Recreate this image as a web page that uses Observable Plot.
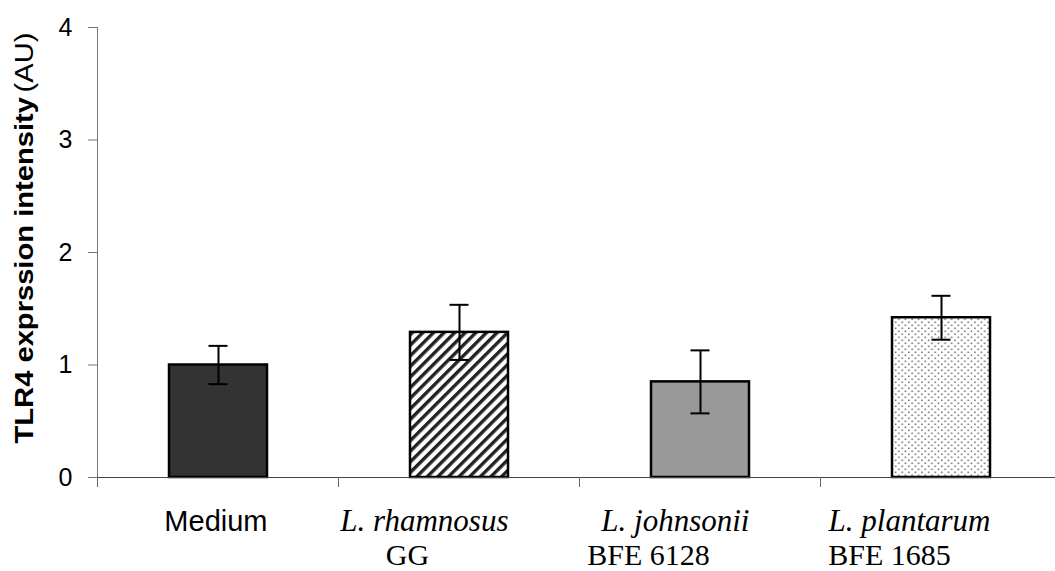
<!DOCTYPE html>
<html>
<head>
<meta charset="utf-8">
<script src="https://cdn.jsdelivr.net/npm/d3@7"></script>
<script src="https://cdn.jsdelivr.net/npm/@observablehq/plot@0.6"></script>
<style>
  html, body { margin: 0; padding: 0; background: #fff; }
  #chart svg { display: block; font-family: "Liberation Sans", Arial, sans-serif; }
</style>
</head>
<body>
<div id="chart"></div>
<script>
// TLR4 expression per treatment (arbitrary units), mean and error
const categories = ["Medium", "L. rhamnosus GG", "L. johnsonii BFE 6128", "L. plantarum BFE 1685"];
const labelTop = ["Medium", "L. rhamnosus", "L. johnsonii", "L. plantarum"];
const labelBottom = ["", "GG", "BFE 6128", "BFE 1685"];
const means = [1.00, 1.29, 0.85, 1.42];
const errors = [0.17, 0.245, 0.28, 0.195];
const yTicks = [0, 1, 2, 3, 4];

const rows = categories.map((c, i) => ({
  category: c, mean: means[i], err: errors[i],
  lo: means[i] - errors[i], hi: means[i] + errors[i],
  top: labelTop[i], bottom: labelBottom[i]
}));

// bar fills: solid dark, diagonal hatch, solid grey, fine dots
const barFills = ["#333333", "url(#hatch)", "#999999", "url(#dots)"];

const sans = "'Liberation Sans', Arial, sans-serif";
const serif = "'Liberation Serif', 'Times New Roman', serif";

// pattern definitions used by the bar fills
function patternDefs() {
  const defs = d3.create("svg:defs");
  const h = defs.append("pattern")
    .attr("id", "hatch").attr("patternUnits", "userSpaceOnUse")
    .attr("width", 7.5).attr("height", 7.5)
    .attr("patternTransform", "rotate(45)");
  h.append("rect").attr("width", 7.5).attr("height", 7.5).attr("fill", "#fff");
  h.append("rect").attr("width", 3.4).attr("height", 7.5).attr("fill", "#222");
  const d = defs.append("pattern")
    .attr("id", "dots").attr("patternUnits", "userSpaceOnUse")
    .attr("width", 6.6).attr("height", 6);
  d.append("rect").attr("width", 6.6).attr("height", 6).attr("fill", "#fff");
  d.append("rect").attr("x", 0.5).attr("y", 0.5).attr("width", 1.6).attr("height", 1.6).attr("fill", "#777");
  d.append("rect").attr("x", 3.8).attr("y", 3.5).attr("width", 1.6).attr("height", 1.6).attr("fill", "#777");
  return defs.node();
}

// small ticks below the category axis at the band boundaries
function bandBoundaryTicks(index, scales) {
  const sx = scales.x, sy = scales.y;
  const [r0] = sx.range();
  const step = sx.step();
  const y0 = sy(0);
  const g = d3.create("svg:g").attr("stroke", "#666").attr("stroke-width", 1);
  for (let k = 0; k <= categories.length; k++) {
    const x = Math.round(r0 + k * step) + 0.5;
    g.append("line").attr("x1", x).attr("x2", x).attr("y1", y0).attr("y2", y0 + 10);
  }
  return g.node();
}

// rotated y-axis title: bold quantity, regular unit
function yTitle(index, scales) {
  const sy = scales.y;
  const yMid = (sy(0) + sy(4)) / 2 - 14;
  const t = d3.create("svg:text")
    .attr("transform", `translate(33,${yMid}) rotate(-90)`)
    .attr("text-anchor", "middle")
    .attr("font-family", sans)
    .attr("font-size", 25)
    .attr("fill", "#000")
    .attr("textLength", 411)
    .attr("lengthAdjust", "spacingAndGlyphs");
  t.append("tspan").attr("font-weight", "bold").text("TLR4 exprssion intensity");
  t.append("tspan").attr("font-weight", "normal").attr("dx", 4).text("(AU)");
  return t.node();
}

const chart = Plot.plot({
  width: 1055,
  height: 571,
  marginTop: 27,
  marginBottom: 94,
  marginLeft: 97,
  marginRight: 0,
  x: { type: "band", domain: categories, range: [97, 1061], paddingInner: 0.595, paddingOuter: 0.2975, axis: null },
  y: { domain: [0, 4], axis: null },
  color: { type: "ordinal", domain: categories, range: barFills },
  marks: [
    patternDefs,
    Plot.frame({ anchor: "left", stroke: "#777" }),
    Plot.axisY({ ticks: yTicks, tickSize: 9, tickPadding: 16, fontSize: 25, label: null, stroke: "#777", fill: "#000", tickFormat: d3.format("d") }),
    Plot.barY(rows, { x: "category", y: "mean", fill: "category", stroke: "#000", strokeWidth: 2.5 }),
    Plot.ruleY([0], { stroke: "#444" }),
    bandBoundaryTicks,
    Plot.ruleX(rows, { x: "category", y1: "lo", y2: "hi", stroke: "#000", strokeWidth: 2 }),
    Plot.tickY(rows, { x: "category", y: "lo", stroke: "#000", strokeWidth: 2, insetLeft: 39.5, insetRight: 39.5 }),
    Plot.tickY(rows, { x: "category", y: "hi", stroke: "#000", strokeWidth: 2, insetLeft: 39.5, insetRight: 39.5 }),
    // first label line, right-aligned with each bar's right edge
    Plot.text(rows.filter((r, i) => i === 0), { x: "category", text: "top", frameAnchor: "bottom", lineAnchor: "bottom", dy: 53, dx: 49, textAnchor: "end", fontFamily: sans, fontSize: 29, fill: "#000" }),
    Plot.text(rows.filter((r, i) => i > 0), { x: "category", text: "top", frameAnchor: "bottom", lineAnchor: "bottom", dy: 53, dx: 49, textAnchor: "end", fontFamily: serif, fontStyle: "italic", fontSize: 31, fill: "#000" }),
    // strain designation on the second line
    Plot.text(rows.filter(r => r.bottom), { x: "category", text: "bottom", frameAnchor: "bottom", lineAnchor: "bottom", dy: 87, dx: -52, fontFamily: serif, fontSize: 30, fill: "#000" }),
    yTitle
  ]
});

document.getElementById("chart").append(chart);
</script>
</body>
</html>
